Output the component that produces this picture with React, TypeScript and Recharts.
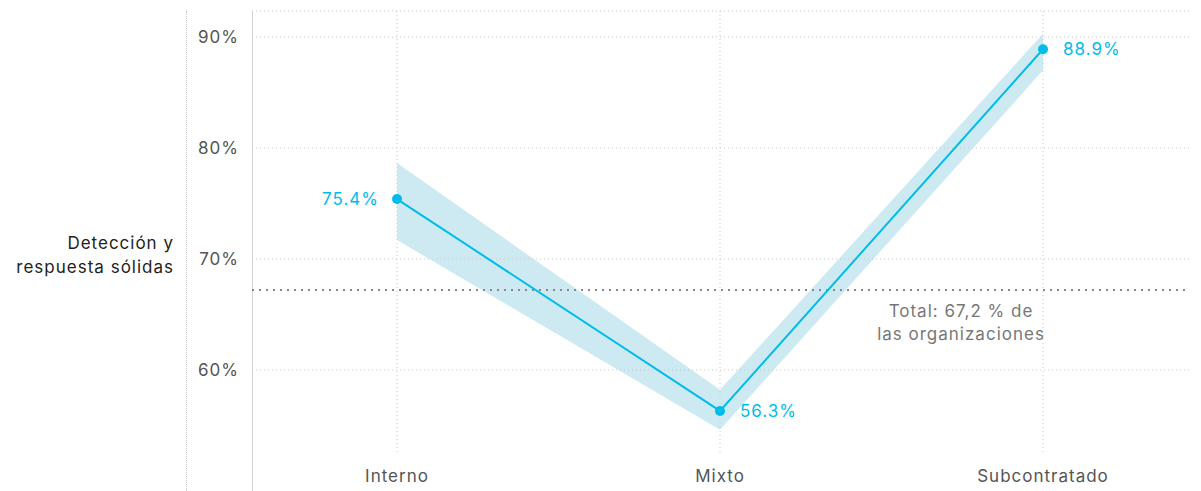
import React from 'react';
import {
  ComposedChart, Line, Area, XAxis, YAxis, ReferenceLine, LabelList, Label,
} from 'recharts';

const categories = ['Interno', 'Mixto', 'Subcontratado'];
const values = [75.4, 56.3, 88.9];
const lowerBand = [71.7, 54.6, 87.0];
const upperBand = [78.65, 58.2, 90.3];
const yTicks = [60, 70, 80, 90];
const yDomain: [number, number] = [52.6, 92.35];
const totalValue = 67.2;
const totalLabel = ['Total: 67,2 % de', 'las organizaciones'];
const yTitle = ['Detección y', 'respuesta sólidas'];
const labelSide = ['left', 'right', 'right'];

const data = categories.map((c, i) => ({
  name: c,
  value: values[i],
  band: [lowerBand[i], upperBand[i]],
}));

const FONT = 'Inter, "Noto Sans", sans-serif';
const BLUE = '#00bceb';
const GRID = '#c8c8c8';

const PointLabel = (props: any) => {
  const { x, y, value, index } = props;
  const side = labelSide[index];
  return (
    <text
      x={side === 'left' ? x - 18 : x + 20}
      y={y}
      dy="0.35em"
      textAnchor={side === 'left' ? 'end' : 'start'}
      fill={BLUE}
      fontSize={17}
      fontFamily={FONT}
    >
      {value.toFixed(1)}%
    </text>
  );
};

const TotalLabel = (props: any) => {
  const { viewBox } = props;
  const y = viewBox.y;
  return (
    <text fill="#777" fontSize={17} fontFamily={FONT} textAnchor="middle">
      <tspan x={961} y={y + 27}>{totalLabel[0]}</tspan>
      <tspan x={961} y={y + 50}>{totalLabel[1]}</tspan>
    </text>
  );
};

const YTitle = () => (
  <text fill="#222" fontSize={17} fontFamily={FONT} textAnchor="end">
    <tspan x={174} y={249}>{yTitle[0]}</tspan>
    <tspan x={174} y={273}>{yTitle[1]}</tspan>
  </text>
);

export default function App() {
  return (
    <div
      style={{
        position: 'absolute', left: 0, top: 0, width: 1201, height: 491, background: '#fff',
        fontFamily: FONT, letterSpacing: '1px',
      }}
    >
      <div style={{ position: 'absolute', left: 186, top: 11, height: 480, borderLeft: '1px dotted #c8c8c8' }} />
      <div style={{ position: 'absolute', left: 252, top: 11, height: 480, width: 1, background: '#d4d4d4' }} />
      <ComposedChart
        width={1201}
        height={491}
        data={data}
        margin={{ top: 11, right: 11, bottom: 0, left: 0 }}
        style={{ position: 'absolute', left: 0, top: 0 }}
      >
        <XAxis
          dataKey="name"
          scale="point"
          padding={{ left: 145, right: 147 }}
          axisLine={false}
          tickLine={false}
          height={39}
          tickMargin={12}
          tick={{ fill: '#555', fontSize: 17, fontFamily: FONT }}
        />
        <YAxis
          type="number"
          domain={yDomain}
          ticks={yTicks}
          allowDataOverflow
          width={252}
          axisLine={false}
          tickLine={false}
          tickMargin={7}
          tickFormatter={(v: number) => `${v}%`}
          tick={{ fill: '#555', fontSize: 17, fontFamily: FONT }}
        >
          <Label content={<YTitle />} />
        </YAxis>
        <ReferenceLine y={yDomain[1]} stroke={GRID} strokeDasharray="1 3" />
        {yTicks.map((t) => (
          <ReferenceLine key={`h${t}`} y={t} stroke={GRID} strokeDasharray="1 3" />
        ))}
        {categories.map((c) => (
          <ReferenceLine key={`v${c}`} x={c} stroke={GRID} strokeDasharray="1 3" />
        ))}
        <Area
          dataKey="band"
          stroke="none"
          fill="#cdeaf2"
          fillOpacity={1}
          isAnimationActive={false}
        />
        <ReferenceLine y={totalValue} stroke="#888" strokeWidth={2} strokeDasharray="2 5">
          <Label content={<TotalLabel />} />
        </ReferenceLine>
        <Line
          dataKey="value"
          stroke={BLUE}
          strokeWidth={2}
          dot={{ r: 5, fill: BLUE, stroke: 'none' }}
          activeDot={false}
          isAnimationActive={false}
        >
          <LabelList dataKey="value" content={<PointLabel />} />
        </Line>
      </ComposedChart>
    </div>
  );
}
